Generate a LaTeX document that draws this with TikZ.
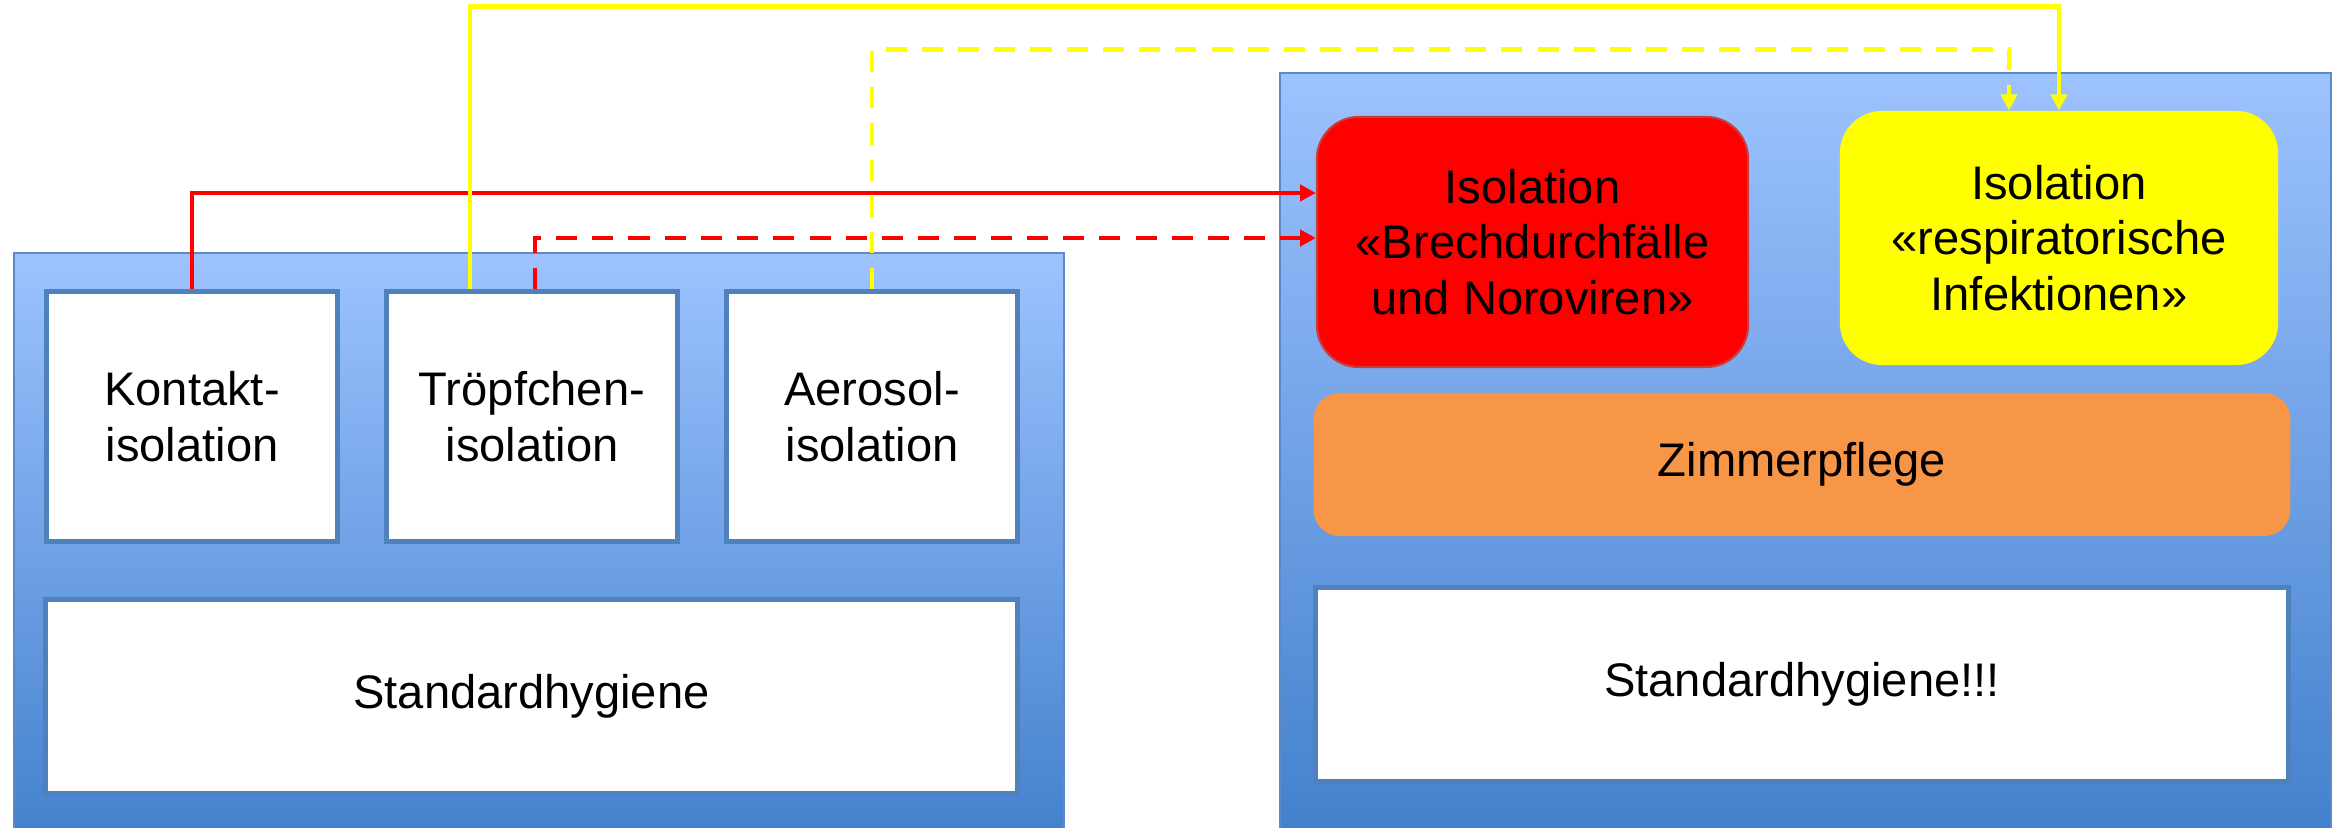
\documentclass[tikz,border=0pt]{standalone}
\usepackage{fontspec}
\setmainfont{Liberation Sans}
\usetikzlibrary{arrows.meta,calc}
\definecolor{paneltop}{RGB}{157,195,255}
\definecolor{panelbot}{RGB}{62,125,202}
\definecolor{panelline}{RGB}{92,138,200}
\definecolor{boxline}{RGB}{79,129,189}
\definecolor{redfill}{RGB}{255,0,0}
\definecolor{redline}{RGB}{205,60,60}
\definecolor{yelfill}{RGB}{255,255,0}
\definecolor{orafill}{RGB}{247,150,70}
\tikzset{
  panelbox/.style={draw=panelline, line width=0.6pt, top color=paneltop, bottom color=panelbot},
  whitebox/.style={draw=boxline, line width=1.4pt, fill=white, inner sep=0pt, align=center,
    font=\fontsize{13.4pt}{15.8pt}\selectfont},
  roundbox/.style={rounded corners=0.42cm, inner sep=0pt, align=center,
    font=\fontsize{13.4pt}{15.8pt}\selectfont},
  conn/.style={line width=1.4pt, -{Triangle[width=4.6pt,length=4.5pt]}},
  dashconn/.style={conn, dash pattern=on 6pt off 4.3pt},
}
\begin{document}
\begin{tikzpicture}[x=0.01cm, y=-0.01cm]
\useasboundingbox (0,0) rectangle (2341,828);
\clip (0,0) rectangle (2341,828);
% panels
\node[panelbox, anchor=north west, minimum width=10.49cm, minimum height=6.2cm, inner sep=0pt] (lp) at (13,252) {};
\node[panelbox, anchor=north west, minimum width=10.50cm, minimum height=8.0cm, inner sep=0pt] (rp) at (1279,72) {};
% left boxes
\node[whitebox, minimum width=2.91cm, minimum height=2.49cm] (kon) at (192,416.5) {Kontakt-\\isolation};
\node[whitebox, minimum width=2.91cm, minimum height=2.49cm] (tro) at (532,416.5) {Tröpfchen-\\isolation};
\node[whitebox, minimum width=2.91cm, minimum height=2.49cm] (aer) at (872,416.5) {Aerosol-\\isolation};
\node[whitebox, minimum width=9.71cm, minimum height=1.93cm] (stdl) at (531.5,696.5) {Standardhygiene};
% right boxes
\node[roundbox, draw=redline, line width=0.6pt, fill=redfill, minimum width=4.31cm, minimum height=2.50cm] (red) at (1532.5,242) {Isolation\\«Brechdurchfälle\\und Noroviren»};
\node[roundbox, fill=yelfill, minimum width=4.38cm, minimum height=2.54cm] (yel) at (2059,238) {Isolation\\«respiratorische\\Infektionen»};
\node[roundbox, rounded corners=0.26cm, fill=orafill, minimum width=9.76cm, minimum height=1.43cm] (ora) at (1802,464.5) {Zimmerpflege};
\node[whitebox, minimum width=9.72cm, minimum height=1.93cm] (stdr) at (1802,684.5) {Standardhygiene!!!};
% connectors
\draw[conn, red] (kon.north) |- ($(red.west)+(0,-49)$);
\draw[dashconn, red] ($(tro.north)+(3,0)$) |- ($(red.west)+(0,-4)$);
\draw[conn, yelfill] ($(tro.north)+(-62,0)$) -- ($(tro.north)+(-62,-283)$) -| (yel.north);
\draw[dashconn, yelfill] (aer.north) -- ($(aer.north)+(0,-240)$) -| ($(yel.north)+(-50,0)$);
\end{tikzpicture}
\end{document}
